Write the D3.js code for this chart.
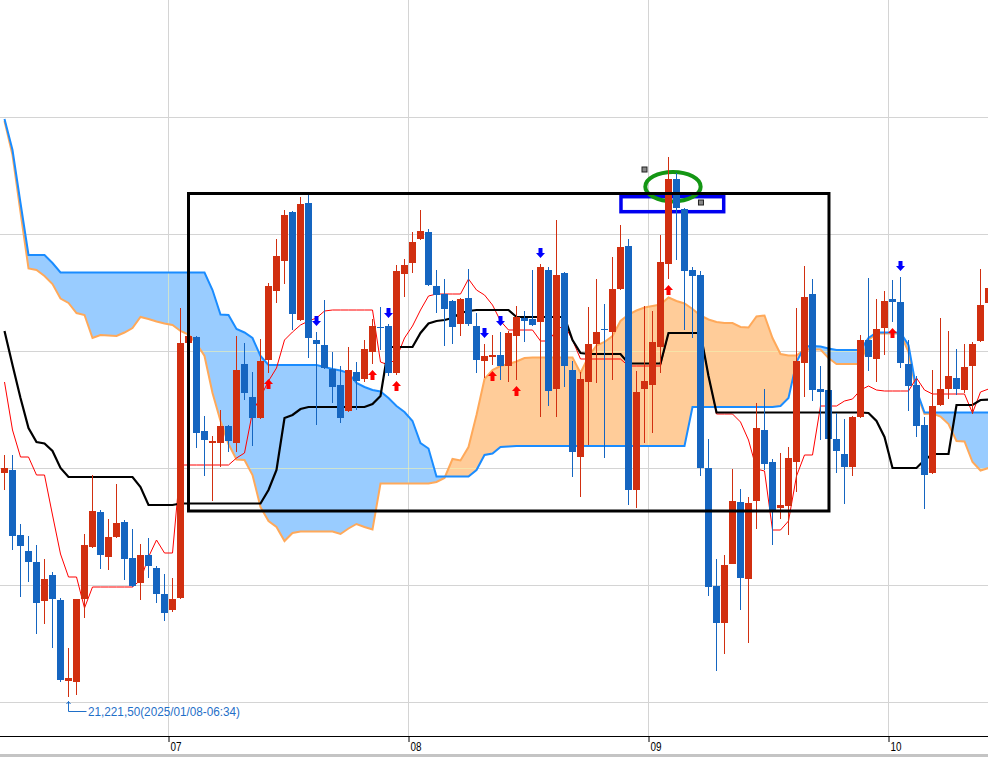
<!DOCTYPE html>
<html><head><meta charset="utf-8">
<script src="https://cdn.jsdelivr.net/npm/d3@7/dist/d3.min.js"></script>
<style>html,body{margin:0;padding:0;background:#fff;overflow:hidden}</style>
</head><body>
<svg id="chart" width="988" height="757"></svg>
<script>
// ---- data (2-minute bars starting 2025/01/08 06:18) ----
const startTime = new Date(2025, 0, 8, 6, 18);
const barMinutes = 2;
const hourLabels = ["07", "08", "09", "10"];
const hourValues = [7, 8, 9, 10];

const openP = [
 21333.5,21335,21302.5,21294.5,21289,21269.5,21282.5,21270,21229.5,21229,
 21270.5,21296.5,21314,21291.5,21301.5,21309,21291,21278.5,21292.5,21286,
 21273,21265,21271,21398.5,21401.5,21354.5,21348.5,21348.5,21357,21348.5,
 21388,21371.5,21361,21390,21424.5,21439.5,21464,21410,21468.5,21400,
 21397.5,21385.5,21377.5,21364.5,21384,21380.5,21394,21406.5,21407,21383.5,
 21433,21438.5,21450.5,21454,21427,21423,21419.5,21408,21421,21407,
 21389.5,21391.5,21392.5,21387,21402,21411,21410.5,21409,21435,21375.5,
 21433.5,21385,21341.5,21379,21398,21405.5,21404,21425.5,21447,21325,
 21375.5,21377.5,21396.5,21438,21480.5,21465.5,21435,21432.5,21336,21277,
 21258.5,21288,21319,21280.5,21319.5,21355,21339,21316,21317,21339,
 21388.5,21423,21375.5,21375,21350.5,21343,21336.5,21361.5,21400,21390.5,
 21406,21420.5,21419,21388,21377.5,21357.5,21333.5,21367.5,21375.5,21381,
 21375,21387,21399.5,21418.5];
const highP = [
 21342.5,21342.5,21308,21302,21297.5,21290.5,21284,21271,21246,21270.5,
 21303,21332.5,21315,21310.5,21328,21310,21305.5,21298,21301,21287,
 21283,21281,21416,21403,21402,21362,21352,21365,21357.5,21402,
 21398.5,21384,21400.5,21428.5,21450.5,21465,21464.5,21471.5,21472.5,21404,
 21420,21394,21387,21396.5,21389,21400,21410.5,21416.5,21408,21437.5,
 21440.5,21454,21465,21455.5,21435,21430.5,21420,21421,21435.5,21413.5,
 21398,21402.5,21404,21404.5,21417,21414.5,21435,21438,21436.5,21460,
 21434,21389.5,21384,21416.5,21430.5,21418,21441.5,21457.5,21450.5,21384.5,
 21417,21414.5,21452.5,21491.5,21483.5,21466,21436.5,21434.5,21350.5,21290.5,
 21292.5,21335.5,21325.5,21321.5,21368.5,21375.5,21340.5,21343.5,21346.5,21416,
 21437,21430.5,21387,21376,21363.5,21360.5,21362,21402.5,21431,21420.5,
 21424.5,21430,21431.5,21400,21382,21361.5,21385,21411,21404.5,21395.5,
 21398,21399,21435.5,21427.5];
const lowP = [
 21325,21295,21271.5,21279,21253,21258,21246,21229,21221.5,21222.5,
 21261,21296,21285.5,21285,21301,21280,21276.5,21270,21281,21268.5,
 21259.5,21264,21270.5,21398,21346,21332,21319.5,21336.5,21344,21344,
 21370,21347,21360.5,21383.5,21418.5,21428,21405,21409.5,21391,21357.5,
 21385.5,21368.5,21358.5,21364,21365,21379,21388,21395,21382,21382.5,
 21421.5,21433.5,21450,21427,21413.5,21397,21398,21402,21407,21383.5,
 21381,21387.5,21380,21379,21380,21399,21407,21361.5,21367,21361.5,
 21376.5,21331.5,21321.5,21347.5,21378.5,21341,21380,21425,21317.5,21316,
 21348.5,21353.5,21383.5,21430.5,21440,21405,21401,21332,21272,21234.5,
 21243,21288,21265,21248.5,21305.5,21335,21297.5,21310.5,21302.5,21324,
 21371.5,21369.5,21350,21350,21333.5,21318,21332,21361,21384.5,21379,
 21392.5,21409,21386,21364.5,21351.5,21315.5,21333,21367,21370.5,21372.5,
 21373.5,21363,21399,21417];
const closeP = [
 21336,21302,21297,21289,21268.5,21280.5,21270.5,21230,21231,21270.5,
 21297.5,21314.5,21292.5,21301.5,21308.5,21290.5,21277,21292.5,21287,21273,
 21263.5,21270.5,21398.5,21402,21353.5,21350,21349.5,21357,21349.5,21385,
 21373.5,21361,21389.5,21427,21442,21462.5,21413,21468,21401,21398,
 21386,21376.5,21361,21385,21379.5,21395.5,21407,21406,21383.5,21434.5,
 21437.5,21449,21454.5,21427.5,21422.5,21415.5,21406.5,21420.5,21408,21390,
 21392,21392.5,21387,21403.5,21411.5,21409.5,21407.5,21436.5,21374.5,21432.5,
 21387,21344,21380.5,21398,21404,21405,21425.5,21446.5,21325,21374,
 21379.5,21399,21439,21480.5,21466,21434.5,21432,21336,21276.5,21258.5,
 21287.5,21319.5,21281,21318.5,21356,21338,21314.5,21317.5,21341,21389.5,
 21421.5,21375,21374,21350.5,21344.5,21336.5,21361.5,21400,21391.5,21405.5,
 21419.5,21419,21388.5,21377,21357,21332.5,21367,21375.5,21382,21375.5,
 21386.5,21398,21417.5,21426];

// Ichimoku lines, one value per bar
const tenkan = [
 21379,21355,21341.5,21341.5,21332.5,21332.5,21312.5,21293,21281.5,21281.5,
 21266,21276.5,21276.5,21276.5,21276.5,21276.5,21276.5,21280,21291.5,21300,
 21293.5,21293.5,21337.5,21337.5,21337.5,21337.5,21337.5,21337.5,21337.5,21341,
 21343.5,21364,21371.5,21379.5,21386,21400,21404,21407.5,21409.5,21411,
 21414.5,21415,21415,21415,21415,21415,21415,21389,21387.5,21391,
 21401,21407,21415,21422,21423,21423,21423,21423,21430.5,21425,
 21422.5,21417.5,21409.5,21405,21405,21405,21405,21399.5,21399.5,21405,
 21407.5,21400,21390.5,21390.5,21390.5,21390.5,21390.5,21390.5,21387,21387,
 21387,21387,21387,21403.5,21403.5,21403.5,21403.5,21403.5,21382,21363,
 21363,21363,21359,21350,21335.5,21334.5,21305,21305,21309.5,21332,
 21342.5,21342.5,21367,21367,21367,21369.5,21370.5,21375,21377,21375,
 21374.5,21374.5,21374.5,21374.5,21381,21375,21373,21373,21373,21373,
 21373,21363.5,21374,21375.5];
const kijun = [
 21404.5,21387.5,21371,21356,21349,21348.25,21344.5,21336,21331.5,21331.5,
 21331.5,21331.5,21331.5,21331.5,21331.5,21331.5,21331.5,21326.5,21317.5,21317.5,
 21317.5,21317.5,21318.25,21318.25,21318.25,21318.25,21318.25,21318.25,21318.25,21318.25,
 21318.25,21318.25,21318.25,21325,21335,21361,21362.5,21365.5,21366.5,21366.5,
 21366.5,21366.5,21366.5,21366.5,21366.5,21366.5,21368,21372,21396.5,21396.5,
 21396.5,21396.5,21403.5,21408.25,21409.5,21410,21411,21413.5,21414.5,21415,
 21415,21415,21415,21415,21411.5,21411.5,21411.5,21411.5,21411.5,21411.5,
 21411.5,21400,21393.5,21393,21393,21393,21393,21393,21388.25,21388.25,
 21388.25,21388.25,21388.25,21403.5,21403.5,21403.5,21403.5,21403.5,21382,21363.75,
 21363.75,21363.75,21363.75,21363.75,21363.75,21363.75,21363.75,21363.75,21363.75,21363.75,
 21363.75,21363.75,21363.75,21363.75,21363.75,21363.75,21363.75,21363.75,21363.5,21359.5,
 21351.5,21336,21336,21336,21336,21340,21343,21343,21343,21367.5,
 21367.5,21367.5,21370,21370.25];
const spanA = [
 21510.5,21495,21468.5,21442.5,21442.5,21442.5,21438.5,21433.75,21433.75,21433.75,
 21433.75,21433.75,21433.75,21433.75,21433.75,21433.75,21433.75,21433.75,21433.75,21433.75,
 21433.75,21433.75,21433.75,21433.75,21433.75,21433.75,21425,21412.75,21412.5,21405.5,
 21403.75,21401,21392,21387.5,21387.5,21387.5,21387.5,21387.5,21387.5,21387.5,
 21386.5,21385.5,21384.75,21383.5,21378.5,21376.5,21375,21374.25,21371,21367,
 21364,21359.5,21348.5,21345.75,21331.75,21331.75,21331.75,21331.75,21331.75,21335,
 21342.5,21343.25,21346.5,21346.75,21347,21347,21347,21347,21347,21347,
 21347,21347,21347,21347,21347,21347,21347,21347,21347,21347,
 21347,21347,21347,21347,21347,21347,21366.5,21366.5,21366.5,21366.5,
 21366.5,21366.5,21366.5,21366.5,21366.5,21366.5,21366.5,21367,21371,21389,
 21396.75,21397,21396.75,21395.75,21395,21395,21395,21395,21401,21403.75,
 21403.75,21403.75,21403.75,21397.5,21375,21363.75,21363.75,21363.75,21363.75,21363.75,
 21363.75,21363.75,21363.75,21363.75];
const spanB = [
 21509.5,21492.5,21464,21435.75,21435,21432,21428,21420.75,21418.5,21413.5,
 21412.5,21401,21402.5,21402.25,21402,21403.75,21406,21411.5,21410.5,21409.25,
 21408.25,21407.5,21404.5,21402.75,21398.25,21392,21373.5,21359.5,21348,21340.25,
 21340,21332.5,21316.5,21309.5,21306.5,21299.5,21303.5,21304.25,21304.25,21304.25,
 21304.25,21304.25,21303,21305.75,21308,21306.5,21305.25,21328.25,21328.25,21328.25,
 21328.25,21328.25,21328.25,21328.25,21329,21331,21340.5,21339.75,21346.5,21362.5,
 21380.5,21385,21387,21388,21389.25,21391,21391.25,21391.25,21391.25,21391.25,
 21391.25,21391.25,21383.5,21391.75,21397.25,21399,21402,21409.5,21412.75,21414.75,
 21416.25,21417,21417.75,21421.25,21419.5,21418.25,21415.5,21412.25,21410.25,21409,
 21408.5,21408.5,21406.5,21406.25,21411.75,21412.25,21401,21393,21392.25,21392.25,
 21395.25,21395.25,21395.25,21391,21388,21388,21388,21388,21400,21403.25,
 21403.25,21403.25,21403.25,21394,21373.5,21363,21363.25,21361.75,21358,21349.5,
 21349.25,21339,21334.75,21336];

const upSignals = [33, 46, 49, 61, 64, 83, 111];
const downSignals = [39, 48, 60, 62, 67, 112];
const gridPrices = [21511.25, 21452.75, 21394.25, 21335.75, 21277.25, 21218.75];
const lowIndex = 8;
const lowLabel = "21,221,50(2025/01/08-06:34)";

// annotations in (bar index, price) units
const blackBox = {i0: 23, i1: 103.06, p0: 21473.25, p1: 21314.5};
const blueBox  = {i0: 77.06, i1: 89.9, p0: 21471.65, p1: 21464.15};
const greenEllipse = {i: 83.56, p: 21476.65, ri: 3.46, rp: 7.35};
const graySquares = [{i: 80.0, p: 21485.25}, {i: 87.06, p: 21468.75}];

// ---- scales ----
const W = 988, H = 757, plotBottom = 736;
const svg = d3.select("#chart");
const nBars = openP.length;
const x = d3.scaleTime()
  .domain([startTime, d3.timeMinute.offset(startTime, 248)])
  .range([0.5, 0.5 + 4 * 248]);
const barX = i => x(new Date(+startTime + (i * barMinutes + barMinutes / 2) * 60000));
const y = d3.scaleLinear().domain([21570, 21570 - H / 2]).range([0, H]);

svg.append("rect").attr("width", W).attr("height", H).attr("fill", "#fff");
const defs = svg.append("defs");
defs.append("clipPath").attr("id", "plot").append("rect")
  .attr("x", 0).attr("y", 0).attr("width", W).attr("height", plotBottom);

const plot = svg.append("g").attr("clip-path", "url(#plot)");
const hourTimes = hourValues.map(h => new Date(2025, 0, 8, h, 0));

// gridlines
function drawGrid(g, color, opacity) {
  g.selectAll("line.h").data(gridPrices).join("line").attr("class", "h")
    .attr("x1", 0).attr("x2", W).attr("y1", d => y(d)).attr("y2", d => y(d))
    .attr("stroke", color).attr("stroke-opacity", opacity).attr("stroke-width", 1);
  g.selectAll("line.v").data(hourTimes).join("line").attr("class", "v")
    .attr("x1", d => x(d)).attr("x2", d => x(d)).attr("y1", 0).attr("y2", plotBottom)
    .attr("stroke", color).attr("stroke-opacity", opacity).attr("stroke-width", 1);
}
drawGrid(plot.append("g"), "#d4d4d4", 1);

// cloud
const cloud = spanA.map((a, i) => ({i, a, b: spanB[i]}));
const between = d3.area().x(d => barX(d.i)).y0(d => y(d.a)).y1(d => y(d.b));
defs.append("clipPath").attr("id", "aboveB").append("path")
  .attr("d", d3.area().x(d => barX(d.i)).y0(0).y1(d => y(d.b))(cloud));
defs.append("clipPath").attr("id", "aboveA").append("path")
  .attr("d", d3.area().x(d => barX(d.i)).y0(0).y1(d => y(d.a))(cloud));
defs.append("clipPath").attr("id", "cloudAll").append("path").attr("d", between(cloud));
plot.append("path").attr("d", between(cloud)).attr("fill", "#99ccff").attr("clip-path", "url(#aboveB)");
plot.append("path").attr("d", between(cloud)).attr("fill", "#ffcc99").attr("clip-path", "url(#aboveA)");
drawGrid(plot.append("g").attr("clip-path", "url(#cloudAll)"), "#f2f2b0", 0.6);

const lineOf = key => d3.line().x(d => barX(d.i)).y(d => y(d[key]));
plot.append("path").attr("d", lineOf("b")(cloud)).attr("fill", "none")
  .attr("stroke", "#ffa95a").attr("stroke-width", 2);
plot.append("path").attr("d", lineOf("a")(cloud)).attr("fill", "none")
  .attr("stroke", "#1a8cff").attr("stroke-width", 2);

// annotations under candles
plot.append("rect")
  .attr("x", barX(blueBox.i0)).attr("y", y(blueBox.p0))
  .attr("width", barX(blueBox.i1) - barX(blueBox.i0)).attr("height", y(blueBox.p1) - y(blueBox.p0))
  .attr("fill", "none").attr("stroke", "#0000f0").attr("stroke-width", 3.5);
plot.append("ellipse")
  .attr("cx", barX(greenEllipse.i)).attr("cy", y(greenEllipse.p))
  .attr("rx", barX(greenEllipse.i + greenEllipse.ri) - barX(greenEllipse.i))
  .attr("ry", y(greenEllipse.p - greenEllipse.rp) - y(greenEllipse.p))
  .attr("fill", "none").attr("stroke", "#149614").attr("stroke-width", 4);

// tenkan / kijun
const idxLine = arr => d3.line().x((d, i) => barX(i)).y(d => y(d))(arr);
plot.append("path").attr("d", idxLine(tenkan)).attr("fill", "none")
  .attr("stroke", "#ff0000").attr("stroke-width", 1);
plot.append("path").attr("d", idxLine(kijun)).attr("fill", "none")
  .attr("stroke", "#000").attr("stroke-width", 2.2);

// candles
const bars = d3.range(nBars).map(i => ({i, o: openP[i], h: highP[i], l: lowP[i], c: closeP[i]}));
const colorOf = d => d.c >= d.o ? "#d12f10" : "#1565c0";
const cg = plot.append("g");
cg.selectAll("line").data(bars).join("line")
  .attr("x1", d => barX(d.i)).attr("x2", d => barX(d.i))
  .attr("y1", d => y(d.h)).attr("y2", d => y(d.l))
  .attr("stroke", colorOf).attr("stroke-width", 1);
cg.selectAll("rect").data(bars).join("rect")
  .attr("x", d => barX(d.i) - 3.5).attr("width", 7)
  .attr("y", d => y(Math.max(d.o, d.c)))
  .attr("height", d => Math.max(1, Math.abs(y(d.o) - y(d.c))))
  .attr("fill", colorOf);

// signal arrows
const upArrow = "M0,0 L4.5,5 L2,5 L2,10 L-2,10 L-2,5 L-4.5,5 Z";
const downArrow = "M0,0 L4.5,-5 L2,-5 L2,-10 L-2,-10 L-2,-5 L-4.5,-5 Z";
plot.selectAll("path.up").data(upSignals).join("path").attr("class", "up")
  .attr("d", upArrow).attr("fill", "#ff0000")
  .attr("transform", i => `translate(${barX(i)},${y(lowP[i]) + 6})`);
plot.selectAll("path.dn").data(downSignals).join("path").attr("class", "dn")
  .attr("d", downArrow).attr("fill", "#0000ff")
  .attr("transform", i => `translate(${barX(i)},${y(highP[i]) - 6})`);

// black box on top
plot.append("rect")
  .attr("x", barX(blackBox.i0)).attr("y", y(blackBox.p0))
  .attr("width", barX(blackBox.i1) - barX(blackBox.i0)).attr("height", y(blackBox.p1) - y(blackBox.p0))
  .attr("fill", "none").attr("stroke", "#000").attr("stroke-width", 3);
plot.selectAll("rect.sq").data(graySquares).join("rect").attr("class", "sq")
  .attr("x", d => barX(d.i) - 2.5).attr("y", d => y(d.p) - 2.5)
  .attr("width", 5).attr("height", 5)
  .attr("fill", "#888").attr("stroke", "#222").attr("stroke-width", 1);

// low label
const lx = barX(lowIndex), ly = y(lowP[lowIndex]);
const lowColor = "#1f6fc8";
svg.append("path")
  .attr("d", `M${lx},${ly + 4.5} L${lx},${ly + 14.5} L${lx + 18},${ly + 14.5}`)
  .attr("fill", "none").attr("stroke", lowColor).attr("stroke-width", 1);
svg.append("path")
  .attr("d", `M${lx - 2},${ly + 7} L${lx},${ly + 4.5} L${lx + 2},${ly + 7}`)
  .attr("fill", "none").attr("stroke", lowColor).attr("stroke-width", 1);
svg.append("text").attr("x", lx + 19.5).attr("y", ly + 18.5)
  .attr("font-family", "Liberation Sans, Arial, sans-serif").attr("font-size", 13)
  .attr("fill", lowColor).attr("textLength", 152).attr("lengthAdjust", "spacingAndGlyphs")
  .text(lowLabel);

// x axis
svg.append("line").attr("x1", 0).attr("x2", W).attr("y1", plotBottom + 0.5).attr("y2", plotBottom + 0.5)
  .attr("stroke", "#000").attr("stroke-width", 1);
const axis = d3.axisBottom(x).tickValues(hourTimes)
  .tickFormat((d, i) => hourLabels[i]).tickSize(6).tickSizeOuter(0);
const ag = svg.append("g").attr("transform", `translate(0,${plotBottom})`).call(axis);
ag.select(".domain").remove();
ag.selectAll(".tick line").attr("stroke", "#000");
ag.selectAll(".tick text")
  .attr("x", 1.5).attr("y", 14.5).attr("dy", null)
  .attr("text-anchor", "start").attr("fill", "#000")
  .attr("font-family", "Liberation Sans, Arial, sans-serif").attr("font-size", 13.5)
  .attr("textLength", 11).attr("lengthAdjust", "spacingAndGlyphs");
svg.append("rect").attr("x", 0).attr("y", 754).attr("width", W).attr("height", 3).attr("fill", "#c4c4c4");
</script>
</body></html>
